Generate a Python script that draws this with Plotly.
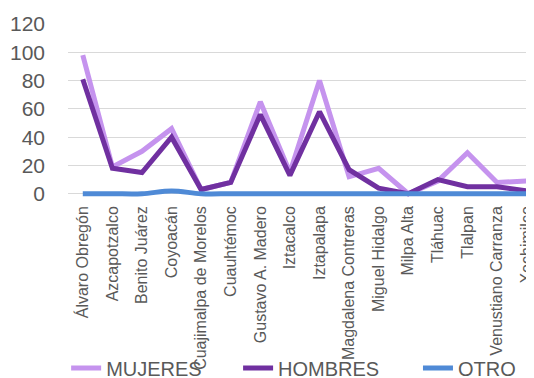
import plotly.graph_objects as go

# Alcaldías de la CDMX
alcaldias = ["Álvaro Obregón", "Azcapotzalco", "Benito Juárez", "Coyoacán",
             "Cuajimalpa de Morelos", "Cuauhtémoc", "Gustavo A. Madero", "Iztacalco",
             "Iztapalapa", "Magdalena Contreras", "Miguel Hidalgo", "Milpa Alta",
             "Tláhuac", "Tlalpan", "Venustiano Carranza", "Xochimilco"]

mujeres = [98, 19, 30, 46, 3, 8, 65, 15, 80, 12, 18, 0, 9, 29, 8, 9]
hombres = [81, 18, 15, 40, 3, 8, 56, 13, 58, 17, 4, 0, 10, 5, 5, 2]
otro = [0, 0, 0, 2, 0, 0, 0, 0, 0, 0, 0, 0, 0, 0, 0, 0]

gris = "#595959"

fig = go.Figure()
fig.add_trace(go.Scatter(x=alcaldias, y=mujeres, name="MUJERES", mode="lines",
                         line=dict(color="#C593EE", width=5), legend="legend"))
fig.add_trace(go.Scatter(x=alcaldias, y=hombres, name="HOMBRES", mode="lines",
                         line=dict(color="#7030A0", width=5), legend="legend2"))
fig.add_trace(go.Scatter(x=alcaldias, y=otro, name="OTRO", mode="lines",
                         line=dict(color="#4F8AD6", width=5, shape="spline"),
                         legend="legend3"))


def leyenda(x):
    return dict(orientation="h", x=x, xanchor="left", y=-0.977, yanchor="middle",
                font=dict(size=20, color=gris), bgcolor="rgba(0,0,0,0)")


# la página tiene un margen de 8 px, se compensa aquí
fig.update_layout(
    width=526, height=370,
    margin=dict(l=60, r=0, t=16, b=180, autoexpand=False),
    plot_bgcolor="white", paper_bgcolor="white",
    font=dict(family="Liberation Sans", color=gris),
    xaxis=dict(range=[-0.5, 15.25], tickangle=-90, tickfont=dict(size=16, color=gris),
               showgrid=False, showline=False, ticks="", ticklabelstandoff=4),
    yaxis=dict(range=[-3, 120], tickvals=[0, 20, 40, 60, 80, 100, 120],
               tickfont=dict(size=21, color=gris),
               gridcolor="#D9D9D9", gridwidth=1, zeroline=False, showline=False,
               ticklabelstandoff=22),
    legend=leyenda(-0.004),
    legend2=leyenda(0.365),
    legend3=leyenda(0.751),
    showlegend=True,
)

fig.write_html("out.html")
